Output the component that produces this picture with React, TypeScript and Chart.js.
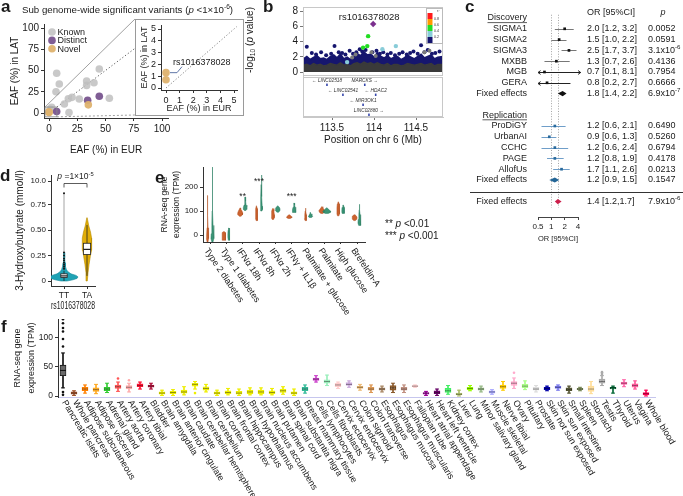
import React, { useEffect, useRef } from "react";
import { Chart, registerables } from "chart.js";

Chart.register(...registerables);
const FONT = "'Liberation Sans', Arial, Helvetica, sans-serif";
Chart.defaults.font.family = FONT;
Chart.defaults.color = "#1a1a1a";

/* ================= DATA ================= */
// panel a
const aTicks = [0, 25, 50, 75, 100];
const aSeries = ["Known", "Distinct", "Novel"];
const aKnownX = [6.8, 9.1, 6.2, 2.4, 0.9, 13.6, 17.1, 20.4, 17.7, 26.8, 33.3, 33.3, 39.8, 44.5, 53.4];
const aKnownY = [46.7, 34.1, 25, 6.7, 4.7, 10.6, 16.8, 18.4, 0.5, 16.5, 37.6, 32.5, 35.6, 51.8, 17.3];
const aDistinctX = [6.8, 34.2, 44.5];
const aDistinctY = [1.8, 15, 19.7];
const aNovelX = [34.8, 0, 0];
const aNovelY = [9.6, 1.3, 0.7];
const aZoomX = [-3.5, 7];
const aZoomY = [-4.5, 7];
const aInsetTicks = [0, 1, 2, 3, 4, 5];
const aInsetX = [0, 0];
const aInsetY = [1.3, 0.7];
const aInsetLabel = "rs1016378028";

// panel b
const bXTicks = [113.5, 114, 114.5];
const bYTicks = [0, 2, 4, 6, 8];
const bCloudX = [113.16, 113.2, 113.24, 113.28, 113.32, 113.36, 113.4, 113.44, 113.48, 113.52, 113.56, 113.6, 113.64, 113.68, 113.72, 113.76, 113.8, 113.84, 113.88, 113.92, 113.96, 114.0, 114.04, 114.08, 114.12, 114.16, 114.2, 114.24, 114.28, 114.32, 114.36, 114.4, 114.44, 114.48, 114.52, 114.56, 114.6, 114.64, 114.68, 114.72, 114.76, 114.82];
const bCloudTop = [1.7, 2.0, 1.6, 1.9, 2.1, 1.7, 1.8, 1.6, 2.0, 2.2, 1.8, 2.3, 1.7, 1.9, 1.6, 2.0, 2.4, 2.1, 2.6, 2.2, 2.3, 1.9, 2.5, 2.0, 1.8, 2.1, 1.7, 1.9, 2.0, 1.6, 1.8, 2.2, 1.9, 1.7, 2.0, 2.3, 1.8, 2.0, 2.2, 1.7, 1.9, 2.0];
const bCloudBase = [0.9, 1.0, 0.8, 1.1, 0.9, 1.0, 0.8, 0.9, 1.1, 1.0, 0.9, 1.2, 0.9, 1.0, 0.8, 1.1, 1.2, 1.0, 1.3, 1.1, 1.2, 1.0, 1.2, 1.0, 0.9, 1.1, 0.8, 1.0, 1.0, 0.8, 0.9, 1.1, 1.0, 0.9, 1.0, 1.1, 0.9, 1.0, 1.1, 0.8, 1.0, 1.0];
const bNavyX = [113.2, 113.26, 113.31, 113.37, 113.43, 113.49, 113.53, 113.58, 113.62, 113.66, 113.71, 113.75, 113.79, 113.83, 113.86, 113.9, 113.98, 114.03, 114.07, 114.11, 114.16, 114.2, 114.25, 114.3, 114.34, 114.39, 114.43, 114.47, 114.52, 114.56, 114.6, 114.64, 114.69, 114.73, 114.78];
const bNavyY = [3.3, 2.5, 2.3, 2.6, 2.2, 2.4, 3.4, 2.6, 2.5, 2.3, 2.8, 2.4, 2.6, 3.0, 2.7, 2.9, 2.6, 2.8, 2.4, 2.6, 2.3, 2.5, 2.2, 2.4, 2.6, 2.3, 2.5, 2.7, 2.4, 3.5, 2.6, 2.9, 2.4, 2.5, 2.7];
const bGrayX = [113.74, 113.78, 113.97, 114.02, 114.6, 114.66];
const bGrayY = [1.9, 2.3, 2.6, 2.1, 2.6, 2.8];
const bBlueX = [114.1, 114.26, 113.68];
const bBlueY = [3.0, 3.4, 1.3];
const bGreenX = [113.93, 113.92, 113.87];
const bGreenY = [4.7, 3.4, 3.2];
const bLeadX = [113.99];
const bLeadY = [6.3];
const bLeadLabel = "rs1016378028";
const bGeneNames = ["LINC02518", "MARCKS", "LINC02541", "HDAC2", "MIR3OK1", "LINC02880"];
const bGeneX = [113.44, 113.89, 113.63, 114.02, 113.87, 113.94];
const bGeneRow = [-1.18, -1.18, -2.49, -2.49, -3.8, -5.11];
const bGeneStrand = [-1, 1, -1, -1, -1, 1];
const bLdLabels = ["0.8", "0.6", "0.4", "0.2"];

// panel c
const cStudies = ["SIGMA1", "SIGMA2", "SIGMA3", "MXBB", "MGB", "GERA", "ProDiGY", "UrbanAI", "CCHC", "PAGE", "AllofUs"];
const cRows = [1, 2, 3, 4, 5, 6, 10, 11, 12, 13, 14];
const cGroup = [0, 0, 0, 0, 0, 0, 1, 1, 1, 1, 1];
const cOR = [2.0, 1.5, 2.5, 1.3, 0.7, 0.8, 1.2, 0.9, 1.2, 1.2, 1.7];
const cLo = [1.2, 1.0, 1.7, 0.7, 0.1, 0.2, 0.6, 0.6, 0.6, 0.8, 1.1];
const cHi = [3.2, 2.2, 3.7, 2.6, 8.1, 2.7, 2.1, 1.3, 2.4, 1.9, 2.6];
const cCIText = ["2.0 [1.2, 3.2]", "1.5 [1.0, 2.2]", "2.5 [1.7, 3.7]", "1.3 [0.7, 2.6]", "0.7 [0.1, 8.1]", "0.8 [0.2, 2.7]", "1.2 [0.6, 2.1]", "0.9 [0.6, 1.3]", "1.2 [0.6, 2.4]", "1.2 [0.8, 1.9]", "1.7 [1.1, 2.6]"];
const cPText = ["0.0052", "0.0591", "3.1x10^-6", "0.4136", "0.7954", "0.6666", "0.6490", "0.5260", "0.6794", "0.4178", "0.0213"];
const cHeaders = ["Discovery", "Replication"];
const cHeaderRows = [0, 9];
const cFeLabel = "Fixed effects";
const cFeRows = [7, 15, 17];
const cFeOR = [1.8, 1.2, 1.4];
const cFeLo = [1.4, 0.9, 1.2];
const cFeHi = [2.2, 1.5, 1.7];
const cFeCIText = ["1.8 [1.4, 2.2]", "1.2 [0.9, 1.5]", "1.4 [1.2,1.7]"];
const cFePText = ["6.9x10^-7", "0.1547", "7.9x10^-6"];
const cXTicks = [0.5, 1, 2, 4];

// panel d
const dCats = ["TT", "TA"];
const dYTicks = [0, 0.25, 0.5, 0.75, 0.98];
const dYLabels = ["0", "0.25", "0.50", "0.75", "10.0"];
const dTTLv = [0, 0.012, 0.025, 0.04, 0.055, 0.07, 0.09, 0.11, 0.14, 0.18, 0.23, 0.28];
const dTTDen = [3, 9, 13, 14, 12, 7, 4, 2.5, 1.5, 1, 0.7, 0.3];
const dTALv = [0, 0.08, 0.16, 0.24, 0.3, 0.36, 0.42, 0.48, 0.54, 0.62];
const dTADen = [0.3, 1, 2, 3.3, 4.3, 4.8, 4.6, 3.5, 1.8, 0.2];
const dQ1 = [0.035, 0.26];
const dMed = [0.05, 0.31];
const dQ3 = [0.07, 0.37];
const dWhLo = [0, 0.05];
const dWhHi = [0.1, 0.55];
const dTTOut = [0.12, 0.14, 0.16, 0.18, 0.2, 0.22, 0.25, 0.28, 0.86];
const dTailTop = 0.86;

// panel e
const eCats = ["Type 2 diabetes", "Type 1 diabetes", "IFNα 18h", "IFNα 8h", "IFNα 2h", "IFNγ + IL1β", "Palmitate + glucose", "Palmitate", "High glucose", "Brefeldin-A"];
const eYTicks = [0, 100, 200];
const eOrangeLv = [[-30, -15, 0, 30, 80, 130, 165], [-22, -15, 0, 10, 14], [78, 84, 92, 100, 108, 113], [60, 70, 90, 110, 122], [65, 72, 85, 100, 110], [69, 72, 76, 80, 84], [60, 68, 85, 100, 112], [90, 95, 101, 107, 113, 118], [80, 88, 100, 115, 130, 138], [60, 66, 72, 78, 84]];
const eOrangeDen = [[0.8, 2.2, 1.8, 1, 0.7, 0.5, 0.2], [2.5, 3.5, 3.5, 3, 1], [1.5, 4.5, 5, 3.5, 1.5, 0.3], [1, 2, 2, 1.5, 0.3], [1.5, 2.8, 2.8, 2, 0.5], [2, 5, 5, 3, 0.5], [1, 2.2, 1.5, 0.8, 0.3], [2, 5, 6, 4, 2, 0.3], [1.5, 2.5, 2.5, 2.5, 1.8, 0.5], [1.5, 4.5, 5, 4, 1]];
const eGreenLv = [[-30, -15, 5, 40, 100, 180, 250, 283], [-22, -10, 5, 20, 29], [102, 108, 115, 125, 140, 158], [100, 106, 120, 160, 210, 250], [95, 100, 106, 112, 118, 122], [94, 98, 106, 116, 125, 133], [73, 77, 82, 88, 95], [90, 94, 99, 104, 110, 114], [90, 95, 105, 115, 125], [40, 50, 65, 85, 105, 128]];
const eGreenDen = [[1, 3, 2.5, 1.2, 0.8, 0.6, 0.4, 0.2], [1, 1.8, 1.8, 1.4, 0.5], [1.5, 4, 3.5, 2, 1, 0.3], [1, 2, 1.5, 1, 0.6, 0.2], [1.5, 4, 4.5, 4, 2, 0.3], [3, 3.5, 3, 2, 1, 0.3], [2, 4.5, 3, 1.2, 0.3], [3, 7, 8, 5, 2, 0.3], [2, 2.5, 2.5, 2.2, 0.5], [1.5, 3, 2.5, 1.2, 0.6, 0.2]];
const eStars = ["**", "***", "***"];
const eStarCat = [3, 4, 6];
const eStarY = [158, 221, 158];
const eSigNotes = [["**", "0.01"], ["***", "0.001"]];

// panel f
const fTissues = ["Pancreatic islets", "Whole pancreas", "Adipose subcutaneous", "Adipose visceral", "Adrenal gland", "Artery aorta", "Artery coronary", "Artery tibial", "Bladder", "Brain amygdala", "Brain anterior cingulate", "Brain caudate", "Brain cerebellar hemisphere", "Brain cerebellum", "Brain cortex", "Brain frontal cortex", "Brain hippocampus", "Brain hypothalamus", "Brain nucleus accumbens", "Brain putamen", "Brain spinal cord", "Brain substantia nigra", "Breast mammary tissue", "Cells lymphocytes", "Cells fibroblasts", "Cervix ectocervix", "Cervix endocervix", "Colon sigmoid", "Colon transverse", "Esophagus", "Esophagus mucosa", "Esophagus muscularis", "Fallopian tube", "Heart atrial appendage", "Heart left ventricle", "Kidney cortex", "Liver", "Lung", "Minor salivary gland", "Muscle skeletal", "Nerve tibial", "Ovary", "Pituitary", "Prostate", "Skin not sun exposed", "Skin sun exposed", "Small intestine", "Spleen", "Stomach", "Testis", "Thyroid", "Uterus", "Vagina", "Whole blood"];
const fColors = ["#555555", "#a0522d", "#ff8000", "#ffaa22", "#33cc33", "#ff5555", "#ffaaaa", "#ff1133", "#b0103a", "#eeee00", "#eeee00", "#eeee00", "#eeee00", "#eeee00", "#eeee00", "#eeee00", "#eeee00", "#eeee00", "#eeee00", "#eeee00", "#eeee00", "#eeee00", "#33bb99", "#cc44cc", "#99eebb", "#ffcccc", "#ccaadd", "#eebb77", "#dd9955", "#aa8866", "#8b5a2b", "#c09080", "#ffcccc", "#990099", "#660066", "#44ee66", "#aabb66", "#99ff00", "#99bb88", "#aaaaff", "#ffcc00", "#ffaacc", "#aaff88", "#dddddd", "#0000aa", "#7777ee", "#555533", "#778855", "#ffdd99", "#aaaaaa", "#006633", "#ff66aa", "#ff5599", "#ff0055"];
const fMin = [14, 1, 5, 4, 6, 8, 7, 12, 12, 1, 1, 2, 12, 7, 1, 2, 1, 2, 2, 2, 3, 1, 5, 24, 18, 13, 15, 10, 6, 7, 6, 6, 15, 1, 1, 3, 0, 9, 7, 3, 10, 13, 11, 7, 9, 10, 5, 9, 4, 18, 5, 16, 12, 0];
const fQ1 = [35, 3, 9, 8, 9, 13, 12, 16, 15, 3, 4, 5, 17, 10, 3, 4, 3, 4, 4, 4, 6, 3, 9, 27, 22, 16, 18, 13, 10, 10, 10, 10, 16, 3, 4, 6, 2, 11, 10, 5, 13, 18, 14, 10, 11, 13, 9, 11, 8, 22, 12, 20, 15, 2];
const fMed = [44, 5, 12, 11, 12, 16, 15, 18, 17, 5, 6, 7, 20, 13, 5, 6, 5, 7, 7, 6, 9, 5, 12, 29, 25, 19, 20, 15, 12, 12, 14, 12, 17, 5, 6, 9, 3, 13, 12, 7, 16, 22, 17, 12, 13, 15, 11, 12, 12, 25, 14, 22, 18, 4];
const fQ3 = [53, 7, 15, 14, 15, 19, 18, 21, 19, 7, 8, 10, 22, 16, 7, 9, 8, 10, 10, 9, 12, 7, 15, 31, 28, 22, 23, 17, 15, 14, 18, 15, 18, 6, 9, 13, 5, 15, 14, 9, 19, 25, 20, 15, 15, 17, 14, 13, 17, 29, 15, 24, 21, 6];
const fMax = [74, 9, 19, 20, 22, 24, 22, 24, 22, 10, 11, 16, 25, 20, 10, 13, 12, 14, 14, 13, 16, 12, 19, 35, 36, 24, 26, 20, 19, 17, 22, 19, 19, 8, 12, 18, 10, 18, 17, 11, 25, 31, 26, 18, 17, 19, 17, 15, 25, 35, 17, 28, 26, 10];
const fOutIdx = [0, 0, 0, 0, 0, 0, 0, 0, 5, 6, 12, 41, 49, 49];
const fOutVal = [132, 125, 117, 111, 98, 85, 7, 2, 30, 27, 5, 40, 38, 41];
const fYTicks = [0, 50, 100];

/* ================= HELPERS ================= */
const zip = (xs: number[], ys: number[]) => xs.map((x, i) => ({ x, y: ys[i] }));
const rgba = (hex: string, a: number) => {
  const n = parseInt(hex.slice(1), 16);
  return `rgba(${(n >> 16) & 255},${(n >> 8) & 255},${n & 255},${a})`;
};
const valAt = (p: number, pa: number, va: number, pb: number, vb: number) => va + ((p - pa) * (vb - va)) / (pb - pa);

type Run = { t: string; i?: boolean; sup?: boolean; sub?: boolean };
function drawRuns(ctx: any, runs: Run[], x: number, y: number, size: number, align = "left", color = "#1a1a1a") {
  const fnt = (r: Run) => `${r.i ? "italic " : ""}${r.sup || r.sub ? size * 0.68 : size}px ${FONT}`;
  let total = 0;
  for (const r of runs) { ctx.font = fnt(r); total += ctx.measureText(r.t).width; }
  let cx = align === "left" ? x : align === "right" ? x - total : x - total / 2;
  ctx.fillStyle = color; ctx.textAlign = "left"; ctx.textBaseline = "middle";
  for (const r of runs) {
    ctx.font = fnt(r);
    const dy = r.sup ? -size * 0.36 : r.sub ? size * 0.28 : 0;
    ctx.fillText(r.t, cx, y + dy);
    cx += ctx.measureText(r.t).width;
  }
  return total;
}
const expRuns = (s: string): Run[] => { const [b, e] = s.split("^"); return e ? [{ t: b }, { t: e, sup: true }] : [{ t: b }]; };

type Box = { left: number; top: number; width: number; height: number };
function frame(box: Box, area: number[]) {
  const [L, T, R, B] = area;
  return {
    padding: { left: 0, top: T - box.top, right: box.left + box.width - R, bottom: 0 },
    yFit: (s: any) => { s.width = L - box.left; },
    xFit: (s: any) => { s.height = box.top + box.height - B; },
  };
}
function base(fr: any) {
  return {
    responsive: false, maintainAspectRatio: false, animation: false, devicePixelRatio: 1, events: [],
    layout: { padding: fr.padding },
    plugins: { legend: { display: false }, tooltip: { enabled: false }, title: { display: false } },
  };
}
function ax(o: any) {
  const tl = o.tickLen ?? 3;
  return {
    type: o.type || "linear", display: true, min: o.min, max: o.max, reverse: !!o.reverse, offset: false,
    afterBuildTicks: (s: any) => { s.ticks = (o.ticks || []).map((v: number) => ({ value: v })); },
    afterFit: o.fit,
    grid: { display: o.grid !== false, drawOnChartArea: false, drawTicks: tl > 0, tickLength: tl, color: o.tickColor || "#333", offset: false },
    border: { display: o.border !== false, color: o.borderColor || "#333", width: 1 },
    ticks: { display: o.labels !== false, font: { size: o.size || 9 }, color: "#1a1a1a", padding: o.pad ?? 2, autoSkip: false, maxRotation: 0, minRotation: 0, callback: o.cb || ((v: any) => String(v)) },
    title: o.title ? { display: true, text: o.title, color: "#1a1a1a", font: { size: o.tsize || 10, lineHeight: o.tlh || 1.2 }, padding: o.tpad || 0 } : { display: false },
  };
}
function violin(center: number, lv: number[], den: number[], k: number) {
  const left = lv.map((l, i) => ({ x: center - den[i] * k, y: l }));
  const right = lv.map((l, i) => ({ x: center + den[i] * k, y: l })).reverse();
  return [...left, ...right, left[0]];
}

/* ================= PANEL a ================= */
const A_BOX = { left: 0, top: 0, width: 250, height: 165 };
const A_AREA = [44, 24, 168, 118];
const INSET = { l: 135, t: 19, r: 243, b: 115 };
const aColors = ["rgba(192,192,192,0.85)", "rgba(120,84,142,0.95)", "rgba(222,178,110,0.95)"];

const aPlugin = {
  id: "aDeco",
  beforeDatasetsDraw(chart: any) {
    const { ctx, scales: { x, y } } = chart;
    ctx.save(); ctx.strokeStyle = "#555"; ctx.lineWidth = 1; ctx.setLineDash([1.2, 2.2]);
    ctx.beginPath(); ctx.moveTo(x.getPixelForValue(0), y.getPixelForValue(0)); ctx.lineTo(x.getPixelForValue(100), y.getPixelForValue(100)); ctx.stroke();
    ctx.restore();
  },
  afterDatasetsDraw(chart: any) {
    const { ctx, scales: { x, y } } = chart;
    ctx.save();
    const bx0 = x.getPixelForValue(aZoomX[0]), bx1 = x.getPixelForValue(aZoomX[1]);
    const by0 = y.getPixelForValue(aZoomY[0]), by1 = y.getPixelForValue(aZoomY[1]);
    ctx.strokeStyle = "#888"; ctx.lineWidth = 0.8;
    ctx.strokeRect(bx0, by1, bx1 - bx0, by0 - by1);
    ctx.beginPath(); ctx.moveTo(bx0, by1); ctx.lineTo(INSET.l, INSET.t); ctx.stroke();
    ctx.setLineDash([2, 2]); ctx.beginPath(); ctx.moveTo(bx1, by0); ctx.lineTo(INSET.l, INSET.b); ctx.stroke();
    ctx.setLineDash([]);
    chart.data.datasets.forEach((d: any, i: number) => {
      const cy = 32 + i * 8.4;
      ctx.fillStyle = d.backgroundColor; ctx.beginPath(); ctx.arc(52, cy, 3.8, 0, Math.PI * 2); ctx.fill();
      ctx.fillStyle = "#1a1a1a"; ctx.font = `9px ${FONT}`; ctx.textAlign = "left"; ctx.textBaseline = "middle";
      ctx.fillText(d.label, 57.5, cy + 0.5);
    });
    ctx.restore();
  },
};
function makeA() {
  const fr = frame(A_BOX, A_AREA);
  const [L, T, R, B] = A_AREA;
  const series = [zip(aKnownX, aKnownY), zip(aDistinctX, aDistinctY), zip(aNovelX, aNovelY)];
  return {
    type: "scatter",
    data: { datasets: series.map((d, i) => ({ label: aSeries[i], data: d, backgroundColor: aColors[i], borderWidth: 0, pointRadius: 3.8, order: 3 - i })) },
    options: {
      ...base(fr),
      scales: {
        x: ax({ min: valAt(L, 49, 0, 162, 100), max: valAt(R, 49, 0, 162, 100), ticks: aTicks, size: 10, fit: fr.xFit, title: "EAF (%) in EUR", tpad: { top: 0, bottom: 9 } }),
        y: ax({ min: valAt(B, 113, 0, 28, 100), max: valAt(T, 113, 0, 28, 100), ticks: aTicks, size: 10, fit: fr.yFit, title: "EAF (%) in LAT", tpad: { top: 9, bottom: 0 } }),
      },
    },
    plugins: [aPlugin],
  };
}

const I_BOX = { left: 128, top: 6, width: 120, height: 116 };
const I_AREA = [161, 25, 237, 90];
const insetPlugin = {
  id: "insetDeco",
  beforeDraw(chart: any) {
    const { ctx } = chart;
    const l = INSET.l - I_BOX.left, t = INSET.t - I_BOX.top, w = INSET.r - INSET.l, h = INSET.b - INSET.t;
    ctx.save(); ctx.fillStyle = "#fff"; ctx.fillRect(l, t, w, h);
    ctx.strokeStyle = "#9a9a9a"; ctx.lineWidth = 1; ctx.strokeRect(l + 0.5, t + 0.5, w, h); ctx.restore();
  },
  beforeDatasetsDraw(chart: any) {
    const { ctx, scales: { x, y } } = chart;
    ctx.save(); ctx.strokeStyle = "#777"; ctx.lineWidth = 0.9; ctx.setLineDash([1.2, 2]);
    ctx.beginPath(); ctx.moveTo(x.getPixelForValue(0), y.getPixelForValue(0)); ctx.lineTo(x.getPixelForValue(5.2), y.getPixelForValue(5.2)); ctx.stroke();
    ctx.restore();
  },
  afterDatasetsDraw(chart: any) {
    const { ctx, scales: { x, y } } = chart;
    const px = x.getPixelForValue(aInsetX[0]), py = y.getPixelForValue(aInsetY[0]);
    ctx.save(); ctx.strokeStyle = "#6077a8"; ctx.lineWidth = 1;
    ctx.beginPath(); ctx.moveTo(px + 4, py); ctx.lineTo(px + 11, py); ctx.lineTo(px + 16, py - 6); ctx.stroke();
    ctx.font = `9px ${FONT}`; ctx.fillStyle = "#1a1a1a"; ctx.textAlign = "left"; ctx.textBaseline = "middle";
    ctx.fillText(aInsetLabel, px + 7, py - 10.5);
    ctx.restore();
  },
};
function makeInset() {
  const fr = frame(I_BOX, I_AREA);
  const [L, T, R, B] = I_AREA;
  return {
    type: "scatter",
    data: { datasets: [{ data: zip(aInsetX, aInsetY), backgroundColor: aColors[2], borderWidth: 0, pointRadius: 3.8 }] },
    options: {
      ...base(fr),
      scales: {
        x: ax({ min: valAt(L, 166, 0, 234, 5), max: valAt(R, 166, 0, 234, 5), ticks: aInsetTicks, size: 9, fit: fr.xFit, title: "EAF (%) in EUR", tsize: 9, tpad: { top: 0, bottom: 7.6 } }),
        y: ax({ min: valAt(B, 88, 0, 29, 5), max: valAt(T, 88, 0, 29, 5), ticks: aInsetTicks, size: 9, fit: fr.yFit, title: "EAF (%) in LAT", tsize: 9, tpad: { top: 11.6, bottom: 0 } }),
      },
    },
    plugins: [insetPlugin],
  };
}

/* ================= PANEL b ================= */
const B_BOX = { left: 235, top: -5, width: 215, height: 155 };
const B_AREA = [303, 7, 443, 117];
const B_SEP = -0.52;
const LD_COLORS = ["#ff1a1a", "#ff9900", "#22dd22", "#88ccd8", "#14146e"];
const bPlugin = {
  id: "bDeco",
  afterDatasetsDraw(chart: any) {
    const { ctx, chartArea: ca, scales: { x, y } } = chart;
    const ox = B_BOX.left, oy = B_BOX.top;
    ctx.save();
    ctx.strokeStyle = "#c8c8c8"; ctx.lineWidth = 1;
    const sep = Math.round(y.getPixelForValue(B_SEP));
    ctx.strokeRect(ca.left + 0.5, ca.top + 0.5, ca.right - ca.left - 1, sep - ca.top - 1);
    ctx.strokeRect(ca.left + 0.5, sep + 1.5, ca.right - ca.left - 1, ca.bottom - sep - 2);
    ctx.textBaseline = "middle"; ctx.textAlign = "center";
    bGeneNames.forEach((g, i) => {
      const X = x.getPixelForValue(bGeneX[i]), Y = y.getPixelForValue(bGeneRow[i]);
      ctx.font = `italic 4.8px ${FONT}`; ctx.fillStyle = "#333";
      ctx.fillText(bGeneStrand[i] < 0 ? "\u2190 " + g : g + " \u2192", X, Y);
      ctx.fillStyle = "#3344aa"; ctx.fillRect(X - 0.8, Y + 2.6, 1.6, 2.4);
    });
    ctx.font = `9.5px ${FONT}`; ctx.fillStyle = "#1a1a1a";
    ctx.fillText(bLeadLabel, x.getPixelForValue(bLeadX[0]) - 4, y.getPixelForValue(bLeadY[0]) - 6.5);
    const lx = 426 - ox, ly = 8 - oy;
    ctx.fillStyle = "#fff"; ctx.fillRect(lx, ly, 17, 36);
    ctx.strokeStyle = "#bbb"; ctx.strokeRect(lx + 0.5, ly + 0.5, 16, 35);
    LD_COLORS.forEach((c, i) => { ctx.fillStyle = c; ctx.fillRect(lx + 1.5, ly + 5 + i * 6, 5, 6); });
    ctx.fillStyle = "#333"; ctx.font = `3.6px ${FONT}`; ctx.textAlign = "left";
    bLdLabels.forEach((t, i) => ctx.fillText(t, lx + 8, ly + 11 + i * 6));
    ctx.fillText("r\u00b2", lx + 11, ly + 3);
    ctx.translate(250 - ox, 40 - oy); ctx.rotate(-Math.PI / 2);
    drawRuns(ctx, [{ t: "-log" }, { t: "10", sub: true }, { t: " (" }, { t: "p", i: true }, { t: " value)" }], 0, 0, 10, "center");
    ctx.restore();
  },
};
function makeB() {
  const fr = frame(B_BOX, B_AREA);
  const [L, T, R, B] = B_AREA;
  const pts = (xs: number[], ys: number[], color: string, r: number, order: number, style = "circle") => ({ type: "scatter", data: zip(xs, ys), backgroundColor: color, borderWidth: 0, pointRadius: r, pointStyle: style, order });
  return {
    type: "scatter",
    data: {
      datasets: [
        { type: "line", data: zip(bCloudX, bCloudTop), fill: "origin", backgroundColor: "#16166e", borderColor: "#16166e", borderWidth: 2, pointRadius: 0, order: 10 },
        { type: "line", data: zip(bCloudX, bCloudBase), fill: "origin", backgroundColor: "#3a3a3a", borderColor: "#3a3a3a", borderWidth: 1.5, pointRadius: 0, order: 9 },
        pts(bNavyX, bNavyY, "#16166e", 2, 8),
        pts(bGrayX, bGrayY, "#7a7a7a", 2, 7),
        pts(bBlueX, bBlueY, "#88ccd8", 2.2, 6),
        pts(bGreenX, bGreenY, "#22dd22", 2.2, 5),
        pts(bLeadX, bLeadY, "#7b2f8e", 3.2, 4, "rectRot"),
      ],
    },
    options: {
      ...base(fr),
      scales: {
        x: ax({ min: valAt(L, 332, 113.5, 416, 114.5), max: valAt(R, 332, 113.5, 416, 114.5), ticks: bXTicks, size: 10, fit: fr.xFit, borderColor: "#c8c8c8", tickColor: "#777", title: "Position on chr 6 (Mb)", tpad: { top: 0, bottom: 4 } }),
        y: ax({ min: valAt(B, 72, 0, 11, 8), max: valAt(T, 72, 0, 11, 8), ticks: bYTicks, size: 10, fit: fr.yFit, borderColor: "#c8c8c8", tickColor: "#777" }),
      },
    },
    plugins: [bPlugin],
  };
}

/* ================= PANEL c ================= */
const C_BOX = { left: 455, top: 0, width: 228, height: 250 };
const C_AREA = [538, 8, 578, 217];
const C_CLIP = [0.5, 4.6];
const C_FE_COLORS = ["#111111", "#236596", "#cc1f4b"];
const cArrow = (ctx: any, X: number, Y: number, dir: number) => {
  ctx.beginPath(); ctx.moveTo(X - dir * 2.6, Y - 1.9); ctx.lineTo(X, Y); ctx.lineTo(X - dir * 2.6, Y + 1.9); ctx.stroke();
};
const cPlugin = {
  id: "forest",
  beforeDatasetsDraw(chart: any) {
    const { ctx, scales: { x, y } } = chart;
    ctx.save(); ctx.lineWidth = 0.8; ctx.strokeStyle = "#8c8c8c"; ctx.setLineDash([1, 1.6]);
    [1, cFeOR[2]].forEach((v) => {
      const X = Math.round(x.getPixelForValue(v)) + 0.5;
      ctx.beginPath(); ctx.moveTo(X, y.getPixelForValue(-0.3)); ctx.lineTo(X, y.getPixelForValue(17.55)); ctx.stroke();
    });
    ctx.setLineDash([]);
    cOR.forEach((o, i) => {
      const Y = Math.round(y.getPixelForValue(cRows[i])) + 0.5;
      const out = cLo[i] < C_CLIP[0] || cHi[i] > C_CLIP[1];
      const X0 = x.getPixelForValue(Math.max(cLo[i], C_CLIP[0])), X1 = x.getPixelForValue(Math.min(cHi[i], C_CLIP[1]));
      ctx.strokeStyle = cGroup[i] ? "#6f9ec9" : out ? "#222" : "#777"; ctx.lineWidth = 1;
      ctx.beginPath(); ctx.moveTo(X0, Y); ctx.lineTo(X1, Y); ctx.stroke();
      if (cLo[i] < C_CLIP[0]) cArrow(ctx, X0, Y, -1);
      if (cHi[i] > C_CLIP[1]) cArrow(ctx, X1, Y, 1);
    });
    cFeOR.forEach((o, k) => {
      const Y = y.getPixelForValue(cFeRows[k]);
      ctx.fillStyle = C_FE_COLORS[k]; ctx.beginPath();
      ctx.moveTo(x.getPixelForValue(cFeLo[k]), Y); ctx.lineTo(x.getPixelForValue(o), Y - 2.6);
      ctx.lineTo(x.getPixelForValue(cFeHi[k]), Y); ctx.lineTo(x.getPixelForValue(o), Y + 2.6);
      ctx.closePath(); ctx.fill();
    });
    ctx.restore();
  },
  afterDatasetsDraw(chart: any) {
    const { ctx, scales: { y } } = chart;
    const LX = 527 - C_BOX.left, OX = 587 - C_BOX.left, PX = 648 - C_BOX.left;
    const S = 9;
    ctx.save();
    drawRuns(ctx, [{ t: "OR [95%CI]" }], OX, y.getPixelForValue(-0.55), S);
    drawRuns(ctx, [{ t: "p", i: true }], PX + 15, y.getPixelForValue(-0.55), S, "center");
    cHeaders.forEach((h, k) => {
      const Y = y.getPixelForValue(cHeaderRows[k]);
      const w = drawRuns(ctx, [{ t: h }], LX, Y, S, "right");
      ctx.strokeStyle = "#1a1a1a"; ctx.lineWidth = 0.7; ctx.beginPath(); ctx.moveTo(LX - w, Y + 4.6); ctx.lineTo(LX, Y + 4.6); ctx.stroke();
    });
    cStudies.forEach((s, i) => {
      const Y = y.getPixelForValue(cRows[i]);
      drawRuns(ctx, [{ t: s }], LX, Y, S, "right");
      drawRuns(ctx, [{ t: cCIText[i] }], OX, Y, S);
      drawRuns(ctx, expRuns(cPText[i]), PX, Y, S);
    });
    cFeRows.forEach((r, k) => {
      const Y = y.getPixelForValue(r);
      drawRuns(ctx, [{ t: cFeLabel }], LX, Y, S, "right");
      drawRuns(ctx, [{ t: cFeCIText[k] }], OX, Y, S);
      drawRuns(ctx, expRuns(cFePText[k]), PX, Y, S);
    });
    const sy = Math.round(y.getPixelForValue(16.12)) + 0.5;
    ctx.strokeStyle = "#333"; ctx.lineWidth = 1; ctx.beginPath(); ctx.moveTo(470 - C_BOX.left, sy); ctx.lineTo(C_BOX.width, sy); ctx.stroke();
    ctx.restore();
  },
};
function makeC() {
  const fr = frame(C_BOX, C_AREA);
  const [L, T, R, B] = C_AREA;
  return {
    type: "scatter",
    data: { datasets: [{ data: zip(cOR, cRows), pointStyle: "rect", pointRadius: 1.9, borderWidth: 0, backgroundColor: cGroup.map((g) => (g ? "#2a6a9c" : "#111")) }] },
    options: {
      ...base(fr),
      scales: {
        x: { ...ax({ type: "logarithmic", min: 0.5, max: 4, ticks: cXTicks, size: 8, fit: fr.xFit, borderColor: "#444", tickColor: "#444", title: "OR [95%CI]", tsize: 8, tpad: { top: 0, bottom: 6.2 } }) },
        y: ax({ min: valAt(T, 18, 0, 28.8, 1), max: valAt(B, 18, 0, 28.8, 1), reverse: true, ticks: [], fit: fr.yFit, grid: false, border: false, labels: false }),
      },
    },
    plugins: [cPlugin],
  };
}

/* ================= PANEL d ================= */
const D_BOX = { left: 0, top: 165, width: 140, height: 150 };
const D_AREA = [51, 175, 95, 286];
const D_W = 1 / 23;
const dPlugin = {
  id: "dDeco",
  afterDatasetsDraw(chart: any) {
    const { ctx, scales: { x, y } } = chart;
    ctx.save();
    [0, 1].forEach((i) => {
      const X = x.getPixelForValue(i + 1), hw = i === 0 ? 3.2 : 3.6;
      const y1 = y.getPixelForValue(dQ3[i]), y0 = y.getPixelForValue(dQ1[i]);
      ctx.fillStyle = "#fff"; ctx.strokeStyle = "#222"; ctx.lineWidth = 0.8;
      ctx.fillRect(X - hw, y1, 2 * hw, y0 - y1); ctx.strokeRect(X - hw, y1, 2 * hw, y0 - y1);
      const m = y.getPixelForValue(dMed[i]);
      ctx.lineWidth = 1.2; ctx.beginPath(); ctx.moveTo(X - hw, m); ctx.lineTo(X + hw, m); ctx.stroke();
    });
    const X1 = x.getPixelForValue(1), X2 = x.getPixelForValue(2);
    const by = 183 - D_BOX.top + 0.5;
    ctx.strokeStyle = "#333"; ctx.lineWidth = 0.8;
    ctx.beginPath(); ctx.moveTo(X1, by + 4); ctx.lineTo(X1, by); ctx.lineTo(X2, by); ctx.lineTo(X2, by + 4); ctx.stroke();
    drawRuns(ctx, [{ t: "p", i: true }, { t: " =1\u00d710" }, { t: "-5", sup: true }], (X1 + X2) / 2, 177 - D_BOX.top, 8.5, "center");
    ctx.restore();
  },
};
function makeD() {
  const fr = frame(D_BOX, D_AREA);
  const [L, T, R, B] = D_AREA;
  const line = (data: any, color: string, w: number, order: number) => ({ type: "line", data, borderColor: color, borderWidth: w, pointRadius: 0, fill: false, order });
  return {
    type: "scatter",
    data: {
      datasets: [
        { type: "scatter", data: dTTOut.map((v) => ({ x: 1, y: v })), backgroundColor: "#111", pointRadius: 1, borderWidth: 0, order: 1 },
        line([{ x: 1, y: dWhLo[0] }, { x: 1, y: dWhHi[0] }], "#222", 0.8, 2),
        line([{ x: 2, y: dWhLo[1] }, { x: 2, y: dWhHi[1] }], "#222", 0.8, 2),
        { type: "line", data: violin(1, dTTLv, dTTDen, D_W), fill: "shape", backgroundColor: "#1fa3b5", borderColor: "#17899a", borderWidth: 0.6, pointRadius: 0, order: 3 },
        { type: "line", data: violin(2, dTALv, dTADen, D_W), fill: "shape", backgroundColor: "#e2ae06", borderColor: "#b58a00", borderWidth: 0.6, pointRadius: 0, order: 3 },
        line([{ x: 1, y: dTTLv[dTTLv.length - 1] }, { x: 1, y: dTailTop }], "#9a9a9a", 0.9, 4),
      ],
    },
    options: {
      ...base(fr),
      scales: {
        x: ax({ min: valAt(L, 64, 1, 87, 2), max: valAt(R, 64, 1, 87, 2), ticks: [1, 2], size: 8.5, fit: fr.xFit, cb: (v: number) => dCats[v - 1], title: "rs1016378028", tpad: { top: 0, bottom: 3 } }),
        y: ax({ min: valAt(B, 281, 0, 255.5, 0.25), max: valAt(T, 281, 0, 255.5, 0.25), ticks: dYTicks, size: 8, fit: fr.yFit, cb: (v: number) => dYLabels[dYTicks.indexOf(v)], title: "3-Hydroxybutyrate (mmol/l)", tpad: { top: 14, bottom: 0 } }),
      },
    },
    plugins: [dPlugin],
  };
}

/* ================= PANEL e ================= */
const E_BOX = { left: 140, top: 160, width: 320, height: 180 };
const E_AREA = [203, 167, 365, 242];
const E_W = 0.5 / 16.3;
const E_OFF = 0.15;
const ePlugin = {
  id: "eDeco",
  afterDraw(chart: any) {
    const { ctx, chartArea: ca, scales: { x, y } } = chart;
    ctx.save();
    ctx.font = `9px ${FONT}`; ctx.fillStyle = "#1a1a1a"; ctx.textAlign = "left"; ctx.textBaseline = "middle";
    eCats.forEach((c, i) => {
      ctx.save(); ctx.translate(x.getPixelForValue(i + 1) - 4, ca.bottom + 7); ctx.rotate((56 * Math.PI) / 180);
      ctx.fillText(c, 0, 0); ctx.restore();
    });
    ctx.font = `8.5px ${FONT}`; ctx.textAlign = "center";
    eStars.forEach((s, k) => ctx.fillText(s, x.getPixelForValue(eStarCat[k]), y.getPixelForValue(eStarY[k])));
    eSigNotes.forEach((n, k) => drawRuns(ctx, [{ t: n[0] + " " }, { t: "p", i: true }, { t: " <" + n[1] }], 385 - E_BOX.left, 224 - E_BOX.top + k * 12, 10));
    ctx.restore();
  },
};
function makeE() {
  const fr = frame(E_BOX, E_AREA);
  const [L, T, R, B] = E_AREA;
  const ds: any[] = [];
  eCats.forEach((_, i) => {
    ds.push({ type: "line", data: violin(i + 1 - E_OFF, eOrangeLv[i], eOrangeDen[i], E_W), fill: "shape", backgroundColor: "rgba(200,86,30,0.92)", borderColor: "#b04a18", borderWidth: 0.5, pointRadius: 0, order: 2 });
    ds.push({ type: "line", data: violin(i + 1 + E_OFF, eGreenLv[i], eGreenDen[i], E_W), fill: "shape", backgroundColor: "rgba(42,140,107,0.92)", borderColor: "#237a5c", borderWidth: 0.5, pointRadius: 0, order: 1 });
  });
  return {
    type: "scatter",
    data: { datasets: ds },
    options: {
      ...base(fr),
      scales: {
        x: ax({ min: valAt(L, 210, 1, 357, 10), max: valAt(R, 210, 1, 357, 10), ticks: eCats.map((_, i) => i + 1), fit: fr.xFit, labels: false, tickLen: 2 }),
        y: ax({ min: valAt(B, 235, 0, 187, 200), max: valAt(T, 235, 0, 187, 200), ticks: eYTicks, size: 8, fit: fr.yFit, title: ["RNA-seq gene", "expression (TPM)"], tsize: 8.5, tlh: 1.4, tpad: { top: 19, bottom: 0 } }),
      },
    },
    plugins: [ePlugin],
  };
}

/* ================= PANEL f ================= */
const F_BOX = { left: 0, top: 312, width: 683, height: 184 };
const F_AREA = [58, 318, 655, 397];
const fPlugin = {
  id: "fLabels",
  afterDraw(chart: any) {
    const { ctx, chartArea: ca, scales: { x } } = chart;
    ctx.save(); ctx.font = `9px ${FONT}`; ctx.fillStyle = "#1a1a1a"; ctx.textAlign = "left"; ctx.textBaseline = "middle";
    fTissues.forEach((t, i) => {
      ctx.save(); ctx.translate(x.getPixelForValue(i) + 1, ca.bottom + 4); ctx.rotate((59 * Math.PI) / 180);
      ctx.fillText(t, 0, 0); ctx.restore();
    });
    ctx.restore();
  },
};
function makeF() {
  const fr = frame(F_BOX, F_AREA);
  const [L, T, R, B] = F_AREA;
  const idx = fTissues.map((_, i) => i);
  const boxFill = fColors.map((c, i) => (i === 0 ? "#6a6a6a" : rgba(c, 0.72)));
  const boxLine = fColors.map((c, i) => (i === 0 ? "#111" : c));
  return {
    type: "bar",
    data: {
      datasets: [
        { type: "scatter", data: fOutIdx.map((t, k) => ({ x: t, y: fOutVal[k] })), backgroundColor: fOutIdx.map((t) => (t === 0 ? "#111" : fColors[t])), pointRadius: 1.3, borderWidth: 0, order: 1 },
        { type: "scatter", data: idx.map((i) => ({ x: i, y: fMed[i] })), pointStyle: "line", pointRadius: 3, borderColor: idx.map((i) => (i === 0 ? "#111" : "rgba(0,0,0,0.4)")), borderWidth: 1, order: 2 },
        { type: "scatter", data: [...idx.map((i) => ({ x: i, y: fMin[i] })), ...idx.map((i) => ({ x: i, y: fMax[i] }))], pointStyle: "line", pointRadius: 2, borderColor: [...boxLine, ...boxLine], borderWidth: 1, order: 3 },
        { type: "bar", data: idx.map((i) => ({ x: i, y: [fQ1[i], fQ3[i]] })), backgroundColor: boxFill, borderColor: boxLine, borderWidth: 0.8, borderSkipped: false, barThickness: 6, grouped: false, order: 4 },
        { type: "bar", data: idx.map((i) => ({ x: i, y: [fMin[i], fMax[i]] })), backgroundColor: boxLine, barThickness: 1, grouped: false, order: 5 },
      ],
    },
    options: {
      ...base(fr),
      scales: {
        x: ax({ min: valAt(L, 63, 0, 646, 53), max: valAt(R, 63, 0, 646, 53), ticks: [], fit: fr.xFit, labels: false, tickLen: 0, borderColor: "#c6c6ee" }),
        y: ax({ min: valAt(B, 396, 0, 337, 100), max: valAt(T, 396, 0, 337, 100), ticks: fYTicks, size: 8.5, fit: fr.yFit, title: ["RNA-seq gene", "expression (TPM)"], tsize: 9, tlh: 1.5, tpad: { top: 11.2, bottom: 0 } }),
      },
    },
    plugins: [fPlugin],
  };
}

/* ================= COMPONENTS ================= */
function ChartCanvas({ box, make }: { box: Box; make: () => any }) {
  const ref = useRef<HTMLCanvasElement>(null);
  useEffect(() => {
    const chart = new Chart(ref.current as HTMLCanvasElement, make());
    return () => chart.destroy();
  }, []);
  return <canvas ref={ref} width={box.width} height={box.height} style={{ position: "absolute", left: box.left, top: box.top, width: box.width, height: box.height }} />;
}
function Letter({ ch, x, base }: { ch: string; x: number; base: number }) {
  return <div style={{ position: "absolute", left: x, top: base - 14.4, fontSize: 17, lineHeight: "17px", fontWeight: 700, fontFamily: FONT }}>{ch}</div>;
}

export default function App() {
  useEffect(() => { document.body.style.margin = "0"; }, []);
  return (
    <div style={{ position: "fixed", left: 0, top: 0, width: 683, height: 496, background: "#fff", overflow: "hidden", fontFamily: FONT, color: "#1a1a1a" }}>
      <ChartCanvas box={A_BOX} make={makeA} />
      <ChartCanvas box={I_BOX} make={makeInset} />
      <ChartCanvas box={B_BOX} make={makeB} />
      <ChartCanvas box={C_BOX} make={makeC} />
      <ChartCanvas box={D_BOX} make={makeD} />
      <ChartCanvas box={E_BOX} make={makeE} />
      <ChartCanvas box={F_BOX} make={makeF} />
      <div style={{ position: "absolute", left: 22, top: 3.6, fontSize: 9.7, lineHeight: "12px", whiteSpace: "nowrap" }}>
        Sub genome-wide significant variants (<i>p</i> &lt;1×10<span style={{ fontSize: 6.6, position: "relative", top: -3.5 }}>-6</span>)
      </div>
      <Letter ch="a" x={1} base={12} />
      <Letter ch="b" x={263} base={12} />
      <Letter ch="c" x={465} base={12} />
      <Letter ch="d" x={0} base={181} />
      <Letter ch="e" x={155} base={183} />
      <Letter ch="f" x={1} base={332} />
    </div>
  );
}
